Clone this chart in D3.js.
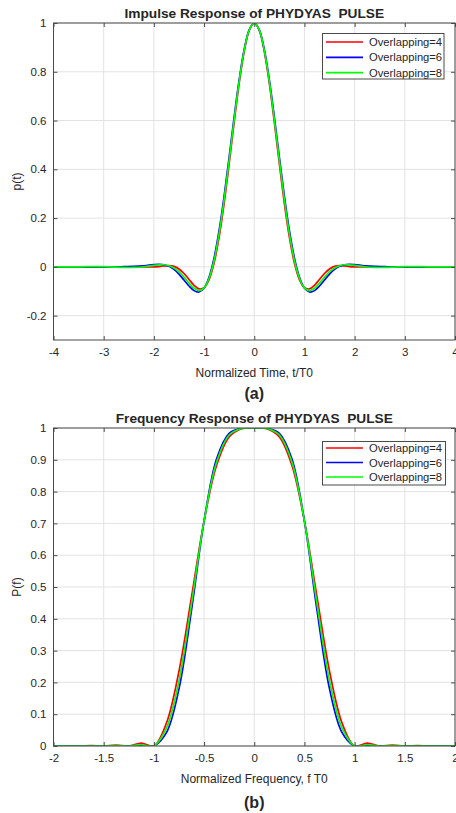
<!DOCTYPE html>
<html><head><meta charset="utf-8">
<script src="https://cdn.jsdelivr.net/npm/d3@7"></script>
<style>
body{margin:0;background:#fff}
svg text{font-family:"Liberation Sans",Arial,Helvetica,sans-serif;fill:#262626}
</style>
</head><body>
<svg id="chart" width="456" height="813"></svg>
<script>
// ---------- Data: (a) impulse response ----------
const timeX = [-4,-3.5,-3,-2.8,-2.6,-2.4,-2.2,-2,-1.9,-1.8,-1.7,-1.6,-1.5,-1.4,-1.3,-1.2,-1.1,-1,-0.9,-0.8,-0.7,-0.6,-0.5,-0.4,-0.3,-0.2,-0.1,
  0,0.1,0.2,0.3,0.4,0.5,0.6,0.7,0.8,0.9,1,1.1,1.2,1.3,1.4,1.5,1.6,1.7,1.8,1.9,2,2.2,2.4,2.6,2.8,3,3.5,4];
const impulseK4 = [0,0,0,0,0,0,0,0,0.0012,0.0039,0.0053,0.0020,-0.0087,-0.0274,-0.0516,-0.0755,-0.0902,-0.0858,-0.0527,0.0158,0.1215,0.2606,0.4229,0.5932,0.7532,0.8842,0.9701,
  1,0.9701,0.8842,0.7532,0.5932,0.4229,0.2606,0.1215,0.0158,-0.0527,-0.0858,-0.0902,-0.0755,-0.0516,-0.0274,-0.0087,0.0020,0.0053,0.0039,0.0012,0,0,0,0,0,0,0,0];
const impulseK6 = [0,0,0,-0.0001,0.0008,0.0017,0.0044,0.0092,0.0104,0.0087,0.0022,-0.0105,-0.0298,-0.0537,-0.0784,-0.0975,-0.1032,-0.0870,-0.0418,0.0369,0.1492,0.2904,0.4504,0.6149,0.7675,0.8913,0.9720,
  1,0.9720,0.8913,0.7675,0.6149,0.4504,0.2904,0.1492,0.0369,-0.0418,-0.0870,-0.1032,-0.0975,-0.0784,-0.0537,-0.0298,-0.0105,0.0022,0.0087,0.0104,0.0092,0.0044,0.0017,0.0008,-0.0001,0,0,0];
const impulseK8 = [0,0.0002,0.0008,-0.0010,-0.0025,-0.0025,0.0005,0.0060,0.0085,0.0085,0.0045,-0.0045,-0.0200,-0.0420,-0.0670,-0.0880,-0.0975,-0.0865,-0.0470,0.0260,0.1360,0.2760,0.4370,0.6040,0.7610,0.8880,0.9711,
  1,0.9711,0.8880,0.7610,0.6040,0.4370,0.2760,0.1360,0.0260,-0.0470,-0.0865,-0.0975,-0.0880,-0.0670,-0.0420,-0.0200,-0.0045,0.0045,0.0085,0.0085,0.0060,0.0005,-0.0025,-0.0025,-0.0010,0.0008,0.0002,0];

// ---------- Data: (b) frequency response ----------
const freqX = [-2,-1.875,-1.75,-1.625,-1.5,-1.375,-1.25,-1.125,-1,-0.875,-0.75,-0.625,-0.5,-0.375,-0.25,-0.125,
  0,0.125,0.25,0.375,0.5,0.625,0.75,0.875,1,1.125,1.25,1.375,1.5,1.625,1.75,1.875,2];
const freqK4 = [0,0.0007,0,0.0013,0,0.0029,0,0.0091,0,0.0718,0.2352,0.4689,0.7071,0.8829,0.9720,0.9977,
  1,0.9977,0.9720,0.8829,0.7071,0.4689,0.2352,0.0718,0,0.0091,0,0.0029,0,0.0013,0,0.0007,0];
const freqK6 = [0,0,0,0,0,0,0,0.0012,0,0.0420,0.1796,0.4275,0.7071,0.9034,0.9834,0.9992,
  1,0.9992,0.9834,0.9034,0.7071,0.4275,0.1796,0.0420,0,0.0012,0,0,0,0,0,0,0];
const freqK8 = [0,0,0,0,0,0.0010,0,0.0040,0,0.0560,0.2050,0.4470,0.7071,0.8930,0.9780,0.9985,
  1,0.9985,0.9780,0.8930,0.7071,0.4470,0.2050,0.0560,0,0.0040,0,0.0010,0,0,0,0,0];

const seriesNames = ["Overlapping=4","Overlapping=6","Overlapping=8"];
const seriesColors = ["#ff0000","#0000ff","#00ff00"];

const timeTicksX = [-4,-3,-2,-1,0,1,2,3,4];
const timeTicksY = [-0.2,0,0.2,0.4,0.6,0.8,1];
const freqTicksX = [-2,-1.5,-1,-0.5,0,0.5,1,1.5,2];
const freqTicksY = [0,0.1,0.2,0.3,0.4,0.5,0.6,0.7,0.8,0.9,1];

const svg = d3.select("#chart");
const fmt = d => String(+(+d).toFixed(2));

function panel(cfg, idx) {
  const x = d3.scaleLinear().domain(cfg.xDomain).range([cfg.left, cfg.right]);
  const y = d3.scaleLinear().domain(cfg.yDomain).range([cfg.bottom, cfg.top]);
  const g = svg.append("g");

  // grid
  g.append("g").selectAll("line").data(cfg.xTicks).join("line")
    .attr("x1", d => x(d)).attr("x2", d => x(d)).attr("y1", cfg.top).attr("y2", cfg.bottom)
    .attr("stroke", "#e3e3e3").attr("stroke-width", 1);
  g.append("g").selectAll("line").data(cfg.yTicks).join("line")
    .attr("y1", d => y(d)).attr("y2", d => y(d)).attr("x1", cfg.left).attr("x2", cfg.right)
    .attr("stroke", "#e3e3e3").attr("stroke-width", 1);

  // curves
  const clipId = "clip" + idx;
  g.append("clipPath").attr("id", clipId).append("rect")
    .attr("x", cfg.left).attr("y", cfg.top).attr("width", cfg.right - cfg.left).attr("height", cfg.bottom - cfg.top);
  const line = d3.line().x(d => x(d[0])).y(d => y(d[1])).curve(d3.curveCatmullRom.alpha(0.5));
  const cg = g.append("g").attr("clip-path", `url(#${clipId})`);
  cfg.series.forEach((s, i) => {
    cg.append("path").datum(cfg.xs.map((v, j) => [v, s[j]]))
      .attr("d", line).attr("fill", "none").attr("stroke", seriesColors[i]).attr("stroke-width", 1.7);
  });

  // axes (MATLAB style, ticks inward, box)
  const axB = d3.axisBottom(x).tickValues(cfg.xTicks).tickSize(-4).tickPadding(8).tickFormat(fmt);
  const axL = d3.axisLeft(y).tickValues(cfg.yTicks).tickSize(-4).tickPadding(7).tickFormat(fmt);
  const axT = d3.axisTop(x).tickValues(cfg.xTicks).tickSize(-4).tickFormat("");
  const axR = d3.axisRight(y).tickValues(cfg.yTicks).tickSize(-4).tickFormat("");
  const styleAx = sel => {
    sel.selectAll("path").attr("stroke", "#4a4a4a").attr("stroke-width", 1);
    sel.selectAll("line").attr("stroke", "#4a4a4a");
    sel.selectAll("text").attr("font-size", 11.5).attr("fill", "#262626")
      .style("font-family", '"Liberation Sans",Arial,sans-serif');
  };
  g.append("g").attr("transform", `translate(0,${cfg.bottom})`).call(axB).call(styleAx);
  g.append("g").attr("transform", `translate(${cfg.left},0)`).call(axL).call(styleAx);
  g.append("g").attr("transform", `translate(0,${cfg.top})`).call(axT).call(styleAx);
  g.append("g").attr("transform", `translate(${cfg.right},0)`).call(axR).call(styleAx);
  g.selectAll(".domain").attr("d", null);
  g.append("rect").attr("x", cfg.left).attr("y", cfg.top).attr("width", cfg.right - cfg.left)
    .attr("height", cfg.bottom - cfg.top).attr("fill", "none").attr("stroke", "#4a4a4a").attr("stroke-width", 1);

  const cx = (cfg.left + cfg.right) / 2;
  g.append("text").attr("x", cx).attr("y", cfg.top - 5).attr("text-anchor", "middle")
    .attr("font-size", 13.7).attr("font-weight", "bold").attr("fill", "#000")
    .style("white-space", "pre").attr("xml:space", "preserve").text(cfg.title);
  g.append("text").attr("x", cx).attr("y", cfg.bottom + 37).attr("text-anchor", "middle")
    .attr("font-size", 12).text(cfg.xLabel);
  g.append("text").attr("transform", `translate(${cfg.left - 33},${(cfg.top + cfg.bottom) / 2}) rotate(-90)`)
    .attr("text-anchor", "middle").attr("font-size", 12).text(cfg.yLabel);
  g.append("text").attr("x", cx).attr("y", cfg.captionY).attr("text-anchor", "middle")
    .attr("font-size", 16).attr("font-weight", "bold").attr("fill", "#000").text(cfg.caption);

  // legend
  const L = cfg.legend;
  g.append("rect").attr("x", L.x).attr("y", L.y).attr("width", L.w).attr("height", L.h)
    .attr("fill", "#fff").attr("stroke", "#4a4a4a").attr("stroke-width", 1);
  seriesNames.forEach((n, i) => {
    const ry = L.y + L.first + i * L.step;
    g.append("line").attr("x1", L.x + 3.5).attr("x2", L.x + 40.5).attr("y1", ry).attr("y2", ry)
      .attr("stroke", seriesColors[i]).attr("stroke-width", 1.7);
    g.append("text").attr("x", L.x + 46.5).attr("y", ry + 4).attr("font-size", 11.2).text(n);
  });
}

panel({
  left: 53.5, right: 455, top: 23, bottom: 340,
  xDomain: [-4, 4], yDomain: [-0.3, 1],
  xTicks: timeTicksX, yTicks: timeTicksY,
  xs: timeX, series: [impulseK4, impulseK6, impulseK8],
  title: "Impulse Response of PHYDYAS  PULSE",
  xLabel: "Normalized Time, t/T0", yLabel: "p(t)",
  caption: "(a)", captionY: 399,
  legend: {x: 322.5, y: 33.5, w: 121.5, h: 45.5, first: 8.5, step: 15.3}
}, 0);

panel({
  left: 53.5, right: 455, top: 428, bottom: 746,
  xDomain: [-2, 2], yDomain: [0, 1],
  xTicks: freqTicksX, yTicks: freqTicksY,
  xs: freqX, series: [freqK4, freqK6, freqK8],
  title: "Frequency Response of PHYDYAS  PULSE",
  xLabel: "Normalized Frequency, f T0", yLabel: "P(f)",
  caption: "(b)", captionY: 808,
  legend: {x: 322.5, y: 441.5, w: 123, h: 43.5, first: 6.5, step: 14.5}
}, 1);
</script>
</body></html>
